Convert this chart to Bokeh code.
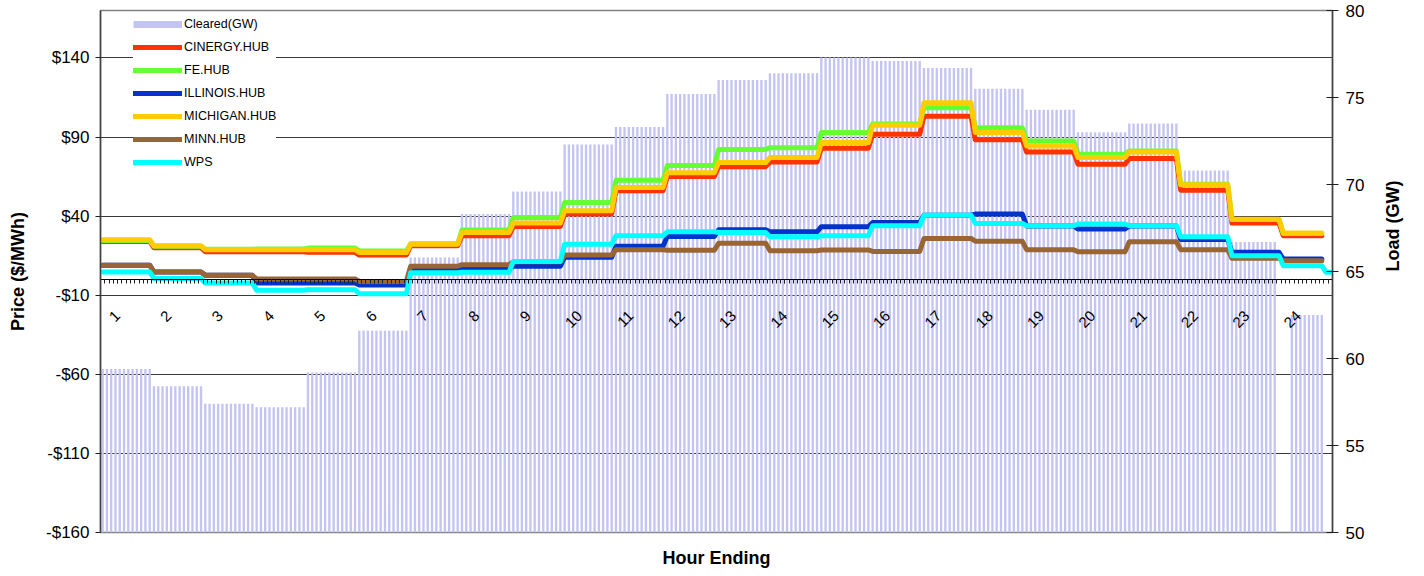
import numpy as np
from math import pi
from bokeh.plotting import figure
from bokeh.models import (LinearAxis, Range1d, FixedTicker, Grid, Legend,
                          LegendItem, ColumnDataSource)
from bokeh.embed import file_html
from bokeh.resources import INLINE

# ---------------- data ----------------
hour_labels = [str(h) for h in range(1, 25)]
intervals_per_hour = 12          # 5-minute intervals

cleared_gw = [59.4, 58.4, 57.4, 57.2, 59.2, 61.6, 65.8, 68.3, 69.6, 72.3, 73.3, 75.2,
              76.0, 76.4, 77.3, 77.1, 76.7, 75.5, 74.3, 73.0, 73.5, 70.8, 66.7, 62.5]
cinergy_hub = [24.0, 20.0, 17.5, 17.5, 17.1, 15.4, 21.3, 27.6, 33.5, 41.3, 56.0, 65.0,
               71.3, 74.2, 82.9, 91.7, 103.2, 88.3, 80.5, 72.8, 76.4, 56.4, 35.6, 27.6]
fe_hub = [24.6, 21.0, 19.0, 19.2, 19.8, 18.0, 22.6, 31.2, 39.2, 48.6, 62.7, 72.0,
          82.2, 83.3, 92.8, 98.3, 108.5, 95.9, 87.5, 79.1, 81.2, 60.2, 37.8, 29.0]
illinois_hub = [9.0, 4.7, 2.6, -2.2, -2.2, -3.5, 6.7, 7.2, 8.3, 14.0, 20.9, 27.2,
                31.4, 30.1, 33.3, 36.0, 40.6, 41.3, 33.8, 31.8, 33.8, 25.3, 17.1, 12.9]
michigan_hub = [25.1, 21.3, 18.8, 18.8, 18.8, 17.0, 22.3, 29.7, 35.6, 43.4, 58.1, 67.5,
                73.9, 77.0, 86.5, 97.4, 111.7, 92.8, 84.3, 77.0, 80.6, 59.8, 38.1, 29.3]
minn_hub = [9.0, 4.7, 2.6, 0.3, 0.3, -1.3, 8.3, 9.3, 11.2, 15.4, 18.8, 18.5,
            22.8, 18.1, 18.6, 17.7, 25.9, 24.1, 18.8, 17.5, 23.8, 18.8, 13.3, 11.8]
wps = [4.7, 0.5, -2.2, -6.8, -6.5, -9.1, 4.2, 4.5, 11.4, 22.3, 27.6, 30.1,
       29.7, 27.0, 27.6, 33.9, 40.6, 35.4, 33.9, 35.0, 33.9, 27.0, 15.0, 8.7]
wps_last_intervals = [4.5, 4.5]          # final two 5-min values of WPS
missing_load_intervals = [275, 276, 277, 286, 287]
missing_price_intervals = [286, 287]

price_ticks = [-160, -110, -60, -10, 40, 90, 140]
price_tick_labels = ["-$160", "-$110", "-$60", "-$10", "$40", "$90", "$140"]
load_ticks = [50, 55, 60, 65, 70, 75, 80]

series_names = ["CINERGY.HUB", "FE.HUB", "ILLINOIS.HUB", "MICHIGAN.HUB", "MINN.HUB", "WPS"]
series_values = [cinergy_hub, fe_hub, illinois_hub, michigan_hub, minn_hub, wps]
series_colors = ["#FF3300", "#66FF33", "#0033CC", "#FFCC00", "#996633", "#00FFFF"]
bar_color = "#C4C4F2"

# -------------- build 5-minute arrays --------------
n = 24 * intervals_per_hour
xc = np.arange(n) + 0.5

def expand(vals):
    return np.repeat(np.asarray(vals, dtype=float), intervals_per_hour)

load = expand(cleared_gw)
load[missing_load_intervals] = np.nan
ok = np.isfinite(load)
bar_src = ColumnDataSource(dict(x=xc[ok], top=load[ok]))

FONT = "Liberation Sans"

p = figure(width=1416, height=570, x_range=Range1d(0, n), y_range=Range1d(-160, 170),
           x_axis_type=None, y_axis_type=None, output_backend="svg",
           toolbar_location=None, min_border_left=100, min_border_right=79,
           min_border_top=10, min_border_bottom=36)
p.extra_y_ranges = {"load": Range1d(50, 80)}
p.outline_line_color = "#808080"
p.outline_line_width = 1.5
p.background_fill_color = "white"
p.border_fill_color = "white"

# grid
grid = Grid(dimension=1, ticker=FixedTicker(ticks=price_ticks[1:]),
            grid_line_color="#3a3a3a", grid_line_width=1)
p.add_layout(grid)

# left axis
yl = LinearAxis(ticker=FixedTicker(ticks=price_ticks),
                major_label_overrides={t: l for t, l in zip(price_ticks, price_tick_labels)},
                axis_label="Price ($/MWh)")
yl.axis_line_color = "#404040"
yl.axis_line_width = 1.5
yl.major_tick_out = 5
yl.major_tick_in = 0
yl.major_tick_line_color = "#202020"
yl.minor_tick_line_color = None
yl.major_label_standoff = 6
yl.major_label_text_font = FONT
yl.major_label_text_font_size = "17px"
yl.major_label_text_color = "black"
yl.axis_label_text_font = FONT
yl.axis_label_text_font_size = "18px"
yl.axis_label_text_font_style = "bold"
yl.axis_label_text_color = "black"
yl.axis_label_standoff = 15
p.add_layout(yl, "left")

# right axis
yr = LinearAxis(y_range_name="load", ticker=FixedTicker(ticks=load_ticks),
                axis_label="Load (GW)")
yr.axis_line_color = "#404040"
yr.axis_line_width = 1.5
yr.major_tick_out = 6
yr.major_tick_in = 6
yr.major_tick_line_color = "#202020"
yr.minor_tick_line_color = None
yr.major_label_standoff = 7
yr.major_label_text_font = FONT
yr.major_label_text_font_size = "17px"
yr.major_label_text_color = "black"
yr.axis_label_text_font = FONT
yr.axis_label_text_font_size = "18px"
yr.axis_label_text_font_style = "bold"
yr.axis_label_text_color = "black"
yr.axis_label_standoff = 26
try:
    yr.axis_label_orientation = pi / 2
except Exception:
    pass
p.add_layout(yr, "right")

# category axis crossing at $0
label_ticks = [h * intervals_per_hour + 4 for h in range(24)]
xa = LinearAxis(fixed_location=0,
                ticker=FixedTicker(ticks=label_ticks, minor_ticks=list(range(n + 1))),
                major_label_overrides={t: l for t, l in zip(label_ticks, hour_labels)})
xa.major_label_orientation = pi / 4
xa.axis_line_color = "black"
xa.axis_line_width = 1
xa.major_tick_out = 4
xa.major_tick_in = 0
xa.minor_tick_out = 4
xa.minor_tick_in = 0
xa.major_tick_line_color = "#202020"
xa.minor_tick_line_color = "#202020"
xa.major_label_standoff = 30
xa.major_label_text_font = FONT
xa.major_label_text_font_size = "15px"
xa.major_label_text_color = "black"
p.add_layout(xa, "below")

xb = LinearAxis(ticker=FixedTicker(ticks=[]), axis_label="Hour Ending")
xb.axis_line_color = None
xb.major_tick_line_color = None
xb.minor_tick_line_color = None
xb.major_tick_out = 0
xb.major_tick_in = 0
xb.major_label_standoff = 0
xb.axis_label_standoff = 15
xb.axis_label_text_font = FONT
xb.axis_label_text_font_size = "18px"
xb.axis_label_text_font_style = "bold"
xb.axis_label_text_color = "black"
p.add_layout(xb, "below")

# bars (load)
p.vbar(x="x", top="top", bottom=50, width=0.55, source=bar_src, y_range_name="load",
       fill_color=bar_color, line_color=None)
# legend proxy for the bars (single NaN point: draws nothing in the plot)
proxy = p.line(x=[np.nan], y=[np.nan], line_width=7, line_color=bar_color, line_cap="butt")

# price lines
renderers = []
for name, vals, col in zip(series_names, series_values, series_colors):
    y = expand(vals)
    if name == "WPS":
        y[n - len(wps_last_intervals):] = wps_last_intervals
    else:
        y[missing_price_intervals] = np.nan
    src = ColumnDataSource(dict(x=xc, y=y))
    r = p.line("x", "y", source=src, line_width=5, line_color=col,
               line_join="round", line_cap="round")
    renderers.append((name, r))

items = [LegendItem(label="Cleared(GW)", renderers=[proxy])]
items += [LegendItem(label=nm, renderers=[r]) for nm, r in renderers]
legend = Legend(items=items, location=(33, 360), padding=3, spacing=3, margin=0,
                glyph_width=49, glyph_height=20, label_height=20, label_standoff=2,
                border_line_color=None, background_fill_color="white",
                background_fill_alpha=1.0, label_text_font=FONT,
                label_text_font_size="12.5px", label_text_color="black")
p.add_layout(legend)

open("out.html", "w").write(file_html(p, INLINE))
